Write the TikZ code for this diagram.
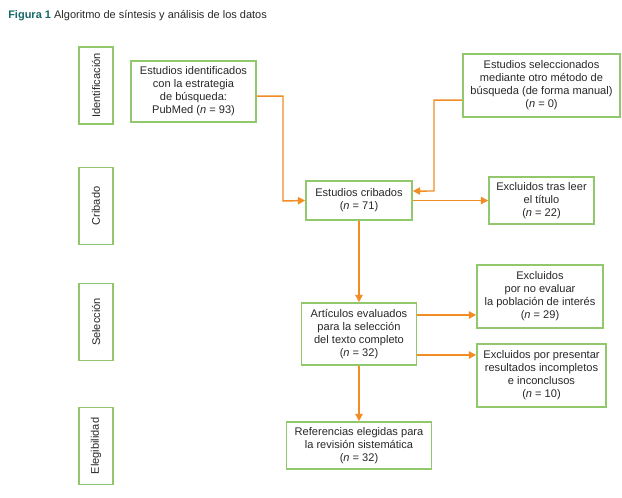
\documentclass[tikz,border=0pt]{standalone}
\usepackage{fontspec}
\setmainfont{Liberation Sans}
\usetikzlibrary{arrows.meta}
\definecolor{boxgreen}{RGB}{146,200,108}
\definecolor{flowor}{RGB}{242,141,38}
\definecolor{figteal}{RGB}{24,104,104}
\definecolor{txtgray}{RGB}{40,40,40}
\tikzset{
  box/.style={draw=boxgreen, line width=1.2pt, fill=white, align=center, inner sep=0pt,
    text=txtgray, font=\fontsize{8.3}{9.8}\selectfont},
  stage/.style={box, rotate=90, minimum width=57.75pt, minimum height=25.5pt},
  flow/.style={draw=flowor, line width=1.1pt, -{Triangle[length=5.5pt,width=5.5pt]}}
}
\begin{document}
\begin{tikzpicture}[x=0.75pt,y=0.75pt,yscale=-1,xscale=1]
\path[fill=white] (0,0) rectangle (622,497);
\useasboundingbox (0,0) rectangle (622,497);

% Title
\node (title) at (8,16) [anchor=west, inner sep=0pt, text=txtgray, font=\fontsize{8.25}{10}\selectfont]
  {\textcolor{figteal}{\textbf{Figura 1}} Algoritmo de síntesis y análisis de los datos};

% Stages
\node (sident) at (96,85.5) [stage] {Identificación};
\node (scrib) at (96,206) [stage] {Cribado};
\node (ssel) at (96,322) [stage] {Selección};
\node (seleg) at (96,446) [stage] {Elegibilidad};

% Boxes
\node (ident) at (193.5,91.5) [box, minimum width=93.75pt, minimum height=45.75pt]
  {Estudios identificados\\con la estrategia\\de búsqueda:\\PubMed (\textit{n} = 93)};
\node (manual) at (541.5,85.5) [box, minimum width=117.75pt, minimum height=47.25pt]
  {Estudios seleccionados\\mediante otro método de\\búsqueda (de forma manual)\\(\textit{n} = 0)};
\node (crib) at (359,200.5) [box, minimum width=79.5pt, minimum height=29.25pt]
  {Estudios cribados\\(\textit{n} = 71)};
\node (titulo) at (541.5,200.5) [box, minimum width=78.75pt, minimum height=35.25pt]
  {Excluidos tras leer\\el título\\(\textit{n} = 22)};
\node (artic) at (359,334) [box, minimum width=86.25pt, minimum height=46.5pt]
  {Artículos evaluados\\para la selección\\del texto completo\\(\textit{n} = 32)};
\node (pobl) at (540,296.5) [box, minimum width=94.5pt, minimum height=47.25pt]
  {Excluidos\\por no evaluar\\la población de interés\\(\textit{n} = 29)};
\node (incomp) at (541.5,375.5) [box, minimum width=96.75pt, minimum height=47.25pt]
  {Excluidos por presentar\\resultados incompletos\\e inconclusos\\(\textit{n} = 10)};
\node (refs) at (359,445.5) [box, minimum width=108.75pt, minimum height=35.25pt]
  {Referencias elegidas para\\la revisión sistemática\\(\textit{n} = 32)};

% Connectors (yshift follows yscale=-1: positive goes down)
\draw[flow] ([yshift=3.4pt]ident.east) -| (283,201) -- (crib.west);
\draw[flow] ([yshift=10.9pt]manual.west) -| (434,191) -- ([yshift=-7.1pt]crib.east);
\draw[flow] (crib.east) -- (titulo.west);
\draw[flow] (crib) -- (artic);
\draw[flow] ([yshift=-14.25pt]artic.east) -- ([yshift=-14.25pt]artic.east -| pobl.west);
\draw[flow] ([yshift=15.75pt]artic.east) -- ([yshift=15.75pt]artic.east -| incomp.west);
\draw[flow] (artic) -- (refs);
\end{tikzpicture}
\end{document}
